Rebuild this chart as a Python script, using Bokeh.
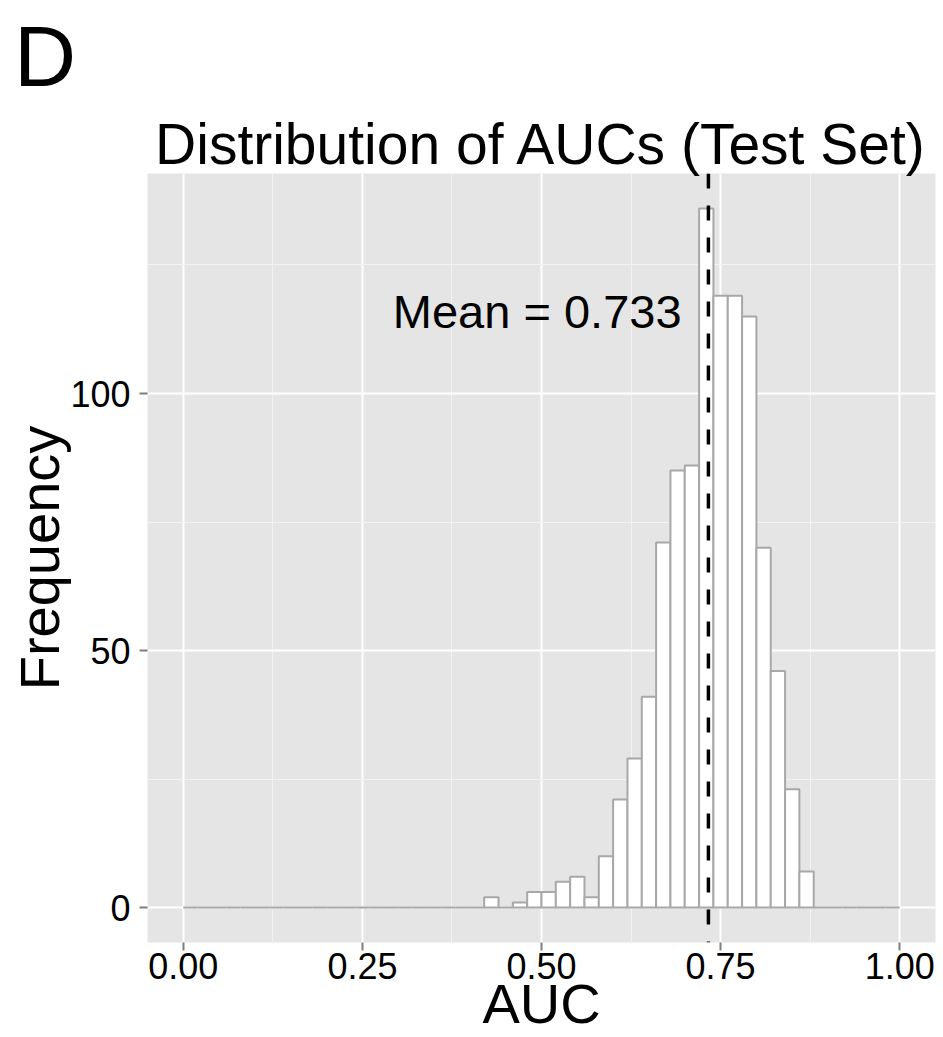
from bokeh.plotting import figure
from bokeh.models import Range1d, FixedTicker, Label, Span, ColumnDataSource, CustomJSTickFormatter, Title
from bokeh.embed import file_html
from bokeh.resources import INLINE

# ---- data ----
bin_width = 0.02
bin_left = [round(i * bin_width, 2) for i in range(50)]
counts = [0, 0, 0, 0, 0, 0, 0, 0, 0, 0,
          0, 0, 0, 0, 0, 0, 0, 0, 0, 0,
          0, 2, 0, 1, 3, 3, 5, 6, 2, 10,
          21, 29, 41, 71, 85, 86, 136, 119, 119, 115,
          70, 46, 23, 7, 0, 0, 0, 0, 0, 0]
mean_auc = 0.733
x_ticks = [0.0, 0.25, 0.5, 0.75, 1.0]
x_minor = [0.125, 0.375, 0.625, 0.875]
y_ticks = [0, 50, 100]
y_minor = [25, 75, 125]

FONT = "Liberation Sans"

W, H = 943, 1037
BL, BR, BT, BB = 147, 8, 173, 95
X0, X1 = -0.05, 1.05
Y0, Y1 = -6.8, 142.8
FW = W - BL - BR
FH = H - BT - BB

def px2x(px):
    return X0 + (px - BL) / FW * (X1 - X0)

def px2y(py):
    return Y1 - (py - BT) / FH * (Y1 - Y0)

p = figure(width=W, height=H, x_range=Range1d(X0, X1), y_range=Range1d(Y0, Y1),
           output_backend="svg", toolbar_location=None,
           min_border_left=BL, min_border_right=BR, min_border_top=BT, min_border_bottom=BB)
p.background_fill_color = "#E5E5E5"
p.border_fill_color = "white"
p.outline_line_color = None

# panel tag (outermost) and chart title (next to the panel)
p.title = Title(text="D", align="left", offset=13.5 - BL, standoff=12,
                vertical_align="top",
                text_font=FONT, text_font_size="86px", text_font_style="normal",
                text_color="black")
p.add_layout(Title(text="Distribution of AUCs (Test Set)", align="center", standoff=-4,
                   text_font=FONT, text_font_size="57px", text_font_style="normal",
                   text_color="black"), "above")

p.xaxis.ticker = FixedTicker(ticks=x_ticks, minor_ticks=x_minor)
p.yaxis.ticker = FixedTicker(ticks=y_ticks, minor_ticks=y_minor)
for g in (p.xgrid, p.ygrid):
    g.grid_line_color = "white"
    g.grid_line_width = 2
    g.minor_grid_line_color = "#F2F2F2"
    g.minor_grid_line_width = 1

for ax in (p.xaxis, p.yaxis):
    ax.axis_line_color = None
    ax.major_tick_line_color = "#7F7F7F"
    ax.major_tick_line_width = 2
    ax.major_tick_in = 0
    ax.major_tick_out = 8
    ax.minor_tick_line_color = None
    ax.major_label_text_font = FONT
    ax.major_label_text_font_size = "36px"
    ax.major_label_text_color = "black"
    ax.axis_label_text_font = FONT
    ax.axis_label_text_font_size = "56px"
    ax.axis_label_text_font_style = "normal"
    ax.axis_label_text_color = "black"
p.xaxis.major_label_standoff = 2
p.yaxis.major_label_standoff = 9
p.xaxis.axis_label = "AUC"
p.yaxis.axis_label = "Frequency"
p.xaxis.axis_label_standoff = -10
p.yaxis.axis_label_standoff = -4
p.xaxis.formatter = CustomJSTickFormatter(code="return tick.toFixed(2);")
p.yaxis.formatter = CustomJSTickFormatter(code="return tick.toFixed(0);")

src = ColumnDataSource(dict(left=bin_left,
                            right=[b + bin_width for b in bin_left],
                            top=counts,
                            bottom=[0] * len(counts)))
p.quad(left="left", right="right", top="top", bottom="bottom", source=src,
       fill_color="white", line_color="#A8A8A8", line_width=2)

p.add_layout(Span(location=mean_auc, dimension="height", line_color="black",
                  line_width=3.5, line_dash="15 17"))

p.add_layout(Label(x=px2x(536.7), y=px2y(337), text="Mean = %.3f" % mean_auc,
                   text_font=FONT, text_font_size="47px", text_align="center",
                   text_baseline="bottom", text_color="black"))

open("out.html", "w").write(file_html(p, INLINE))
